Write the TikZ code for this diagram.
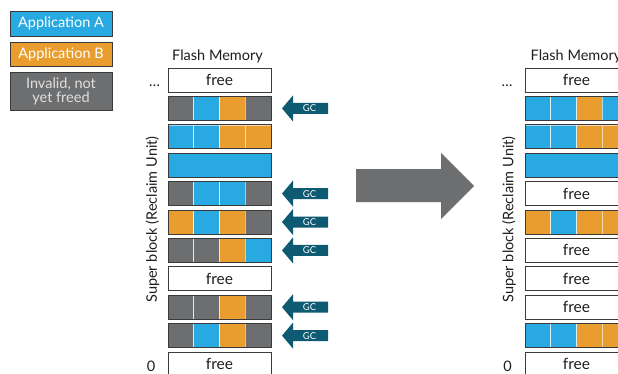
\documentclass[tikz,border=0pt]{standalone}
\usepackage{fontspec}
\setmainfont{Lato}
\definecolor{appA}{HTML}{29A9E1}
\definecolor{appB}{HTML}{E99D2E}
\definecolor{inv}{HTML}{6D6E70}
\definecolor{gcc}{HTML}{0E5A72}
\definecolor{edgec}{HTML}{3A3A3A}
\definecolor{txt}{HTML}{1E1E1E}
\tikzset{
  cell/.style={minimum width=25.75pt, minimum height=24pt, inner sep=0pt, outer sep=0pt,
    anchor=north west, draw=white, draw opacity=0.6, line width=0.6pt},
  widecell/.style={cell, minimum width=103pt},
  rowedge/.style={draw=edgec, line width=0.9pt},
  freebox/.style={widecell, draw=edgec, line width=0.9pt, draw opacity=1, fill=white,
    font=\fontsize{15.5}{17}\selectfont, text=txt},
  legend/.style={minimum width=102pt, inner sep=0pt, outer sep=0pt, anchor=north west,
    draw=edgec, line width=0.8pt, text=white, font=\fontsize{14.5}{14}\selectfont, align=center},
  gctext/.style={text=white, font=\fontsize{9.5}{10}\selectfont, inner sep=0pt},
  lbl/.style={text=txt, font=\fontsize{14.5}{16}\selectfont, inner sep=0pt},
}
\newcommand\memrow[4]{%
  \foreach \c [count=\k] in {#4} {
    \node[cell, fill=\c] (#1c\k) at ({#2+(\k-1)*25.75}, #3) {};
  }
  \draw[rowedge] (#2,#3) rectangle ++(103,24);
}
\newcommand\fullrow[3]{%
  \node[widecell, fill=appA] (#1) at (#2,#3) {};
  \draw[rowedge] (#2,#3) rectangle ++(103,24);
}
\newcommand\gcarrow[2]{%
  \fill[gcc] (282,#2) -- (293,#2-13) -- (293,#2-5.5) -- (328,#2-5.5)
    -- (328,#2+5.5) -- (293,#2+5.5) -- (293,#2+13) -- cycle;
  \node[gctext] (#1) at (309.5,#2) {GC};
}
\begin{document}
\begin{tikzpicture}[x=1pt,y=-1pt]
\path[use as bounding box, clip] (0,0) rectangle (618,373);
\fill[white] (0,0) rectangle (618,373);

% legend
\node[legend, fill=appA, minimum height=25pt] (legA) at (10,11) {Application A};
\node[legend, fill=appB, minimum height=24pt] (legB) at (10,42) {Application B};
\node[legend, fill=inv, minimum height=38pt, text=white!88!black] (legI) at (10,72) {Invalid, not\\yet freed};

% left column
\node[lbl] (fmL) at (217.5,56) {Flash Memory};
\node[lbl, anchor=base] (dotsL) at (154.5,86) {\ldots};
\node[lbl] (zeroL) at (151,366) {0};
\node[lbl, rotate=90] (sbL) at (152.5,219.5) {Super block (Reclaim Unit)};

\node[freebox] (L0) at (168,68) {free};
\memrow{L1}{168}{96.4}{inv,appA,appB,inv}
\memrow{L2}{168}{124.8}{appA,appA,appB,appB}
\fullrow{L3}{168}{153.2}
\memrow{L4}{168}{181.6}{inv,appA,appA,inv}
\memrow{L5}{168}{210}{appB,appA,appB,inv}
\memrow{L6}{168}{238.4}{inv,inv,appB,appA}
\node[freebox] (L7) at (168,266.8) {free};
\memrow{L8}{168}{295.2}{inv,inv,appB,inv}
\memrow{L9}{168}{323.6}{inv,appA,appB,inv}
\node[freebox] (L10) at (168,352) {free};

\gcarrow{gc1}{108.4}
\gcarrow{gc4}{193.6}
\gcarrow{gc5}{222}
\gcarrow{gc6}{250.4}
\gcarrow{gc8}{307.2}
\gcarrow{gc9}{335.6}

% big arrow
\fill[inv] (356,169) -- (441,169) -- (441,153) -- (474,186) -- (441,219)
  -- (441,202) -- (356,202) -- cycle;

% right column
\node[lbl] (fmR) at (576,56) {Flash Memory};
\node[lbl, anchor=base] (dotsR) at (507,86) {\ldots};
\node[lbl] (zeroR) at (507.5,366) {0};
\node[lbl, rotate=90] (sbR) at (509,219.5) {Super block (Reclaim Unit)};

\node[freebox] (R0) at (525,68) {free};
\memrow{R1}{525}{96.4}{appA,appA,appB,appA}
\memrow{R2}{525}{124.8}{appA,appA,appB,appB}
\fullrow{R3}{525}{153.2}
\node[freebox] (R4) at (525,181.6) {free};
\memrow{R5}{525}{210}{appB,appA,appB,appB}
\node[freebox] (R6) at (525,238.4) {free};
\node[freebox] (R7) at (525,266.8) {free};
\node[freebox] (R8) at (525,295.2) {free};
\memrow{R9}{525}{323.6}{appA,appA,appB,appB}
\node[freebox] (R10) at (525,352) {free};
\end{tikzpicture}
\end{document}
